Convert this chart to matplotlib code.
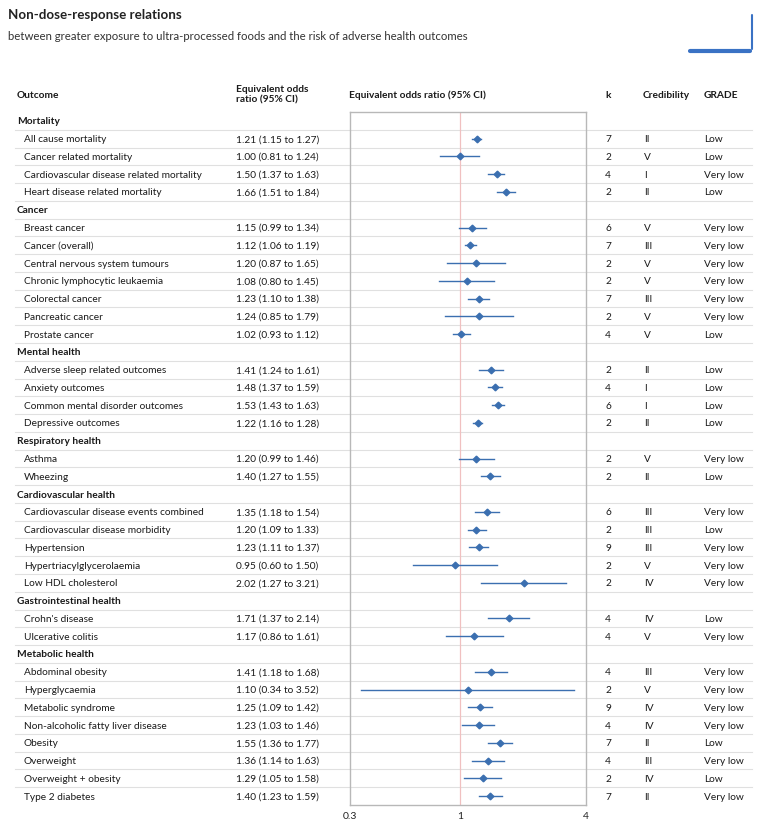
import matplotlib
matplotlib.use("Agg")
import matplotlib.pyplot as plt
from matplotlib.transforms import blended_transform_factory
from matplotlib.lines import Line2D
import numpy as np

plt.rcParams['font.family'] = ['Lato', 'DejaVu Sans']

groups = ["Mortality", "Cancer", "Mental health", "Respiratory health",
          "Cardiovascular health", "Gastrointestinal health", "Metabolic health"]

outcomes = [
    ["All cause mortality", "Cancer related mortality",
     "Cardiovascular disease related mortality", "Heart disease related mortality"],
    ["Breast cancer", "Cancer (overall)", "Central nervous system tumours",
     "Chronic lymphocytic leukaemia", "Colorectal cancer", "Pancreatic cancer",
     "Prostate cancer"],
    ["Adverse sleep related outcomes", "Anxiety outcomes",
     "Common mental disorder outcomes", "Depressive outcomes"],
    ["Asthma", "Wheezing"],
    ["Cardiovascular disease events combined", "Cardiovascular disease morbidity",
     "Hypertension", "Hypertriacylglycerolaemia", "Low HDL cholesterol"],
    ["Crohn's disease", "Ulcerative colitis"],
    ["Abdominal obesity", "Hyperglycaemia", "Metabolic syndrome",
     "Non-alcoholic fatty liver disease", "Obesity", "Overweight",
     "Overweight + obesity", "Type 2 diabetes"],
]

odds = [[1.21, 1.00, 1.50, 1.66],
        [1.15, 1.12, 1.20, 1.08, 1.23, 1.24, 1.02],
        [1.41, 1.48, 1.53, 1.22],
        [1.20, 1.40],
        [1.35, 1.20, 1.23, 0.95, 2.02],
        [1.71, 1.17],
        [1.41, 1.10, 1.25, 1.23, 1.55, 1.36, 1.29, 1.40]]
lower = [[1.15, 0.81, 1.37, 1.51],
         [0.99, 1.06, 0.87, 0.80, 1.10, 0.85, 0.93],
         [1.24, 1.37, 1.43, 1.16],
         [0.99, 1.27],
         [1.18, 1.09, 1.11, 0.60, 1.27],
         [1.37, 0.86],
         [1.18, 0.34, 1.09, 1.03, 1.36, 1.14, 1.05, 1.23]]
upper = [[1.27, 1.24, 1.63, 1.84],
         [1.34, 1.19, 1.65, 1.45, 1.38, 1.79, 1.12],
         [1.61, 1.59, 1.63, 1.28],
         [1.46, 1.55],
         [1.54, 1.33, 1.37, 1.50, 3.21],
         [2.14, 1.61],
         [1.68, 3.52, 1.42, 1.46, 1.77, 1.63, 1.58, 1.59]]
k_studies = [[7, 2, 4, 2],
             [6, 7, 2, 2, 7, 2, 4],
             [2, 4, 6, 2],
             [2, 2],
             [6, 2, 9, 2, 2],
             [4, 4],
             [4, 2, 9, 4, 7, 4, 2, 7]]
credibility = [["II", "V", "I", "II"],
               ["V", "III", "V", "V", "III", "V", "V"],
               ["II", "I", "I", "II"],
               ["V", "II"],
               ["III", "III", "III", "V", "IV"],
               ["IV", "V"],
               ["III", "V", "IV", "IV", "II", "III", "IV", "II"]]
grade = [["Low", "Low", "Very low", "Low"],
         ["Very low"] * 6 + ["Low"],
         ["Low", "Low", "Low", "Low"],
         ["Very low", "Low"],
         ["Very low", "Low", "Very low", "Very low", "Very low"],
         ["Low", "Very low"],
         ["Very low", "Very low", "Very low", "Very low", "Low", "Very low", "Low", "Very low"]]

W, H = 760, 828
fig = plt.figure(figsize=(W / 100, H / 100), dpi=100)
fig.patch.set_facecolor("white")

def px(x):
    return x / W

n_rows = sum(len(o) + 1 for o in outcomes)
ax = fig.add_axes([px(350), 1 - 806 / H, px(586 - 350), (806 - 113) / H])
ax.set_xscale("log")
ax.set_xlim(0.3, 4)
ax.set_ylim(n_rows - 0.5, -0.5)
ax.set_yticks([])
ax.set_xticks([0.3, 1, 4])
ax.set_xticklabels(["0.3", "1", "4"])
ax.xaxis.set_minor_locator(matplotlib.ticker.NullLocator())
ax.tick_params(axis="x", length=0, labelsize=7.5, colors="#222222", pad=4)
for s in ax.spines.values():
    s.set_color("#b8b8b8")
    s.set_linewidth(1.0)
ax.axvline(1, color="#f0c0c0", lw=0.9, zorder=1)

tr = blended_transform_factory(fig.transFigure, ax.transData)
txt_color = "#1a1a1a"
fs = 7.3
line_kw = dict(transform=tr, color="#e0e0e0", lw=0.8, clip_on=False, zorder=0)

row = 0
for gi, g in enumerate(groups):
    ax.text(px(17), row, g, transform=tr, fontsize=fs, fontweight="bold",
            color=txt_color, va="center", ha="left", clip_on=False)
    if row > 0:
        ax.add_line(Line2D([px(15), px(752)], [row - 0.5, row - 0.5], **line_kw))
    ax.add_line(Line2D([px(15), px(752)], [row + 0.5, row + 0.5], **line_kw))
    row += 1
    for i, name in enumerate(outcomes[gi]):
        o, lo, hi = odds[gi][i], lower[gi][i], upper[gi][i]
        ax.text(px(24), row, name, transform=tr, fontsize=fs, color=txt_color,
                va="center", ha="left", clip_on=False)
        ax.text(px(236), row, f"{o:.2f} ({lo:.2f} to {hi:.2f})", transform=tr,
                fontsize=fs, color=txt_color, va="center", ha="left", clip_on=False)
        ax.text(px(608), row, str(k_studies[gi][i]), transform=tr, fontsize=fs,
                color=txt_color, va="center", ha="center", clip_on=False)
        ax.text(px(644), row, credibility[gi][i], transform=tr, fontsize=fs,
                color=txt_color, va="center", ha="left", clip_on=False)
        ax.text(px(704), row, grade[gi][i], transform=tr, fontsize=fs,
                color=txt_color, va="center", ha="left", clip_on=False)
        ax.plot([lo, hi], [row, row], color="#3b6fb0", lw=1.0, zorder=3)
        ax.plot([o], [row], marker="D", ms=3.4, color="#3b6fb0", zorder=4)
        if i < len(outcomes[gi]) - 1:
            ax.add_line(Line2D([px(15), px(752)], [row + 0.5, row + 0.5], **line_kw))
        row += 1

# column headers
hy = 1 - 95 / H
fig.text(px(17), hy, "Outcome", fontsize=fs, fontweight="bold", color=txt_color, va="center")
fig.text(px(236), hy, "Equivalent odds\nratio (95% CI)", fontsize=fs, fontweight="bold",
         color=txt_color, va="center", linespacing=1.15)
fig.text(px(349), hy, "Equivalent odds ratio (95% CI)", fontsize=fs, fontweight="bold",
         color=txt_color, va="center")
fig.text(px(608), hy, "k", fontsize=fs, fontweight="bold", color=txt_color, va="center", ha="center")
fig.text(px(643), hy, "Credibility", fontsize=fs, fontweight="bold", color=txt_color, va="center")
fig.text(px(704), hy, "GRADE", fontsize=fs, fontweight="bold", color=txt_color, va="center")

# title
fig.text(px(8), 1 - 15 / H, "Non-dose-response relations", fontsize=9.6, fontweight="bold",
         color="#222222", va="center")
fig.text(px(8), 1 - 37 / H, "between greater exposure to ultra-processed foods and the risk of adverse health outcomes",
         fontsize=8.2, color="#333333", va="center")

# logo-like corner mark
fig.add_artist(Line2D([px(690), px(750)], [1 - 52 / H, 1 - 52 / H], color="#3a72c4", lw=3,
                      solid_capstyle="round"))
fig.add_artist(Line2D([px(752), px(752)], [1 - 16 / H, 1 - 50 / H], color="#3a72c4", lw=1.5,
                      solid_capstyle="round"))

fig.savefig("out.png", dpi=100)
